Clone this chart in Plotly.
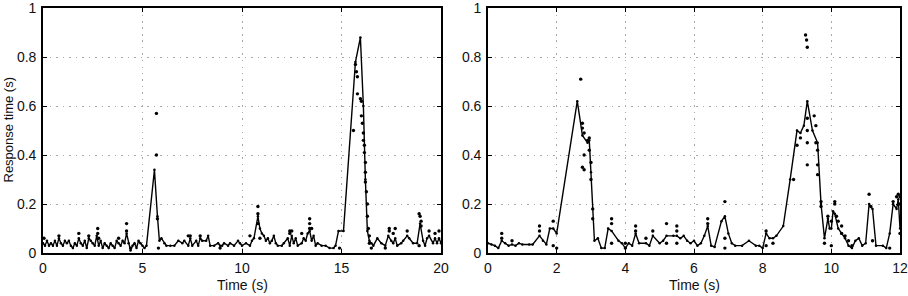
import plotly.graph_objects as go

# ---------------- Left panel data ----------------
left_line_t = [0.0,0.1,0.2,0.3,0.4,0.5,0.6,0.7,0.8,0.9,1.0,1.1,1.2,1.3,1.4,1.5,1.6,1.7,1.8,1.9,
               2.0,2.1,2.2,2.3,2.4,2.5,2.6,2.7,2.8,2.9,3.0,3.1,3.2,3.3,3.4,3.5,3.6,3.7,3.8,3.9,
               4.0,4.1,4.2,4.3,4.4,4.5,4.6,4.7,4.8,4.9,5.0,5.1,5.2,5.6,5.75,5.85,5.95,6.1,6.2,6.4,
               6.6,6.8,7.0,7.1,7.3,7.4,7.5,7.7,7.8,7.9,8.0,8.2,8.3,8.4,8.6,8.8,8.9,9.0,9.1,9.3,
               9.4,9.6,9.8,9.9,10.0,10.2,10.4,10.5,10.6,10.8,10.9,11.0,11.1,11.2,11.3,11.4,11.5,11.6,11.7,11.8,
               12.0,12.1,12.3,12.4,12.5,12.6,12.7,12.8,13.0,13.1,13.2,13.3,13.4,13.5,13.6,13.7,13.8,14.0,14.2,14.4,
               14.6,14.7,14.85,15.1,15.7,15.95,16.1,16.2,16.3,16.4,16.5,16.6,16.8,17.0,17.2,17.35,17.5,17.6,17.7,17.8,
               18.0,18.1,18.3,18.4,18.6,18.8,18.95,19.1,19.2,19.3,19.4,19.6,19.7,19.8,19.9,20.0]
left_line_y = [0.04,0.03,0.05,0.03,0.04,0.03,0.05,0.03,0.06,0.04,0.03,0.05,0.04,0.05,0.03,0.02,0.04,0.03,0.06,0.04,
               0.03,0.05,0.02,0.06,0.05,0.04,0.03,0.07,0.03,0.05,0.02,0.04,0.03,0.02,0.04,0.03,0.02,0.05,0.04,0.03,
               0.05,0.04,0.08,0.04,0.01,0.03,0.04,0.02,0.05,0.04,0.03,0.02,0.03,0.34,0.15,0.05,0.06,0.04,0.03,0.03,
               0.03,0.05,0.04,0.05,0.03,0.06,0.03,0.05,0.03,0.06,0.05,0.05,0.07,0.03,0.03,0.04,0.03,0.03,0.04,0.03,
               0.04,0.03,0.05,0.04,0.03,0.04,0.03,0.05,0.06,0.15,0.10,0.08,0.07,0.05,0.06,0.04,0.05,0.07,0.04,0.03,
               0.03,0.04,0.06,0.03,0.07,0.04,0.06,0.03,0.04,0.06,0.05,0.08,0.09,0.05,0.07,0.03,0.04,0.03,0.03,0.02,
               0.02,0.03,0.09,0.09,0.78,0.88,0.60,0.30,0.09,0.05,0.04,0.03,0.06,0.04,0.03,0.07,0.05,0.04,0.06,0.03,
               0.04,0.05,0.07,0.06,0.04,0.04,0.12,0.05,0.03,0.06,0.07,0.04,0.06,0.04,0.06,0.04]
left_dot_t = [0.05,0.8,1.8,2.3,2.75,2.75,2.8,3.8,4.2,4.2,4.4,5.7,5.7,5.75,5.8,7.3,7.4,7.9,8.9,10.4,
              10.8,10.8,10.8,10.9,12.4,12.4,12.5,13.0,13.4,13.4,13.4,13.5,14.9,15.6,15.7,15.75,15.8,15.8,15.95,16.0,
              16.0,16.05,16.1,16.1,16.15,16.15,16.2,16.2,16.2,16.25,16.3,16.3,16.35,16.4,16.4,16.5,17.4,17.4,17.7,17.6,
              18.3,18.9,18.95,19.0,19.0,19.4,19.7,19.9,18.9,17.2]
left_dot_y = [0.06,0.07,0.08,0.07,0.10,0.08,0.06,0.06,0.12,0.09,0.02,0.57,0.40,0.14,0.02,0.07,0.07,0.07,0.02,0.07,
              0.19,0.16,0.12,0.06,0.09,0.08,0.09,0.08,0.14,0.12,0.10,0.10,0.02,0.50,0.77,0.74,0.65,0.72,0.63,0.62,
              0.56,0.53,0.49,0.46,0.44,0.41,0.37,0.33,0.29,0.25,0.20,0.15,0.10,0.07,0.04,0.02,0.10,0.09,0.10,0.08,
              0.09,0.16,0.15,0.13,0.11,0.09,0.08,0.09,0.03,0.02]

# ---------------- Right panel data ----------------
right_line_t = [0.0,0.1,0.2,0.3,0.4,0.5,0.6,0.7,0.8,0.9,1.0,1.2,1.3,1.5,1.6,1.7,1.8,1.9,2.0,2.6,
                2.75,2.9,2.95,3.0,3.1,3.2,3.3,3.4,3.5,3.6,3.8,3.9,4.0,4.1,4.2,4.3,4.4,4.6,4.7,4.8,
                5.0,5.1,5.2,5.4,5.5,5.6,5.7,5.8,5.9,6.0,6.1,6.2,6.3,6.4,6.5,6.6,6.8,6.9,7.0,7.1,
                7.2,7.4,7.6,7.8,7.9,8.0,8.1,8.2,8.3,8.4,8.6,8.8,9.0,9.1,9.2,9.3,9.45,9.6,9.7,9.8,
                9.9,9.95,10.0,10.05,10.1,10.2,10.3,10.4,10.5,10.6,10.7,10.8,10.9,11.0,11.1,11.2,11.3,11.5,11.6,11.7,
                11.8,11.9,11.95,12.0]
right_line_y = [0.04,0.035,0.03,0.02,0.05,0.04,0.03,0.035,0.03,0.04,0.035,0.035,0.035,0.07,0.05,0.035,0.10,0.10,0.08,0.62,
                0.48,0.45,0.46,0.33,0.05,0.06,0.02,0.02,0.10,0.09,0.05,0.04,0.02,0.04,0.03,0.08,0.04,0.04,0.03,0.07,
                0.04,0.05,0.07,0.07,0.07,0.06,0.07,0.05,0.04,0.05,0.03,0.04,0.07,0.11,0.03,0.025,0.13,0.15,0.08,0.04,
                0.03,0.03,0.05,0.03,0.03,0.02,0.08,0.06,0.06,0.07,0.11,0.30,0.50,0.49,0.52,0.62,0.50,0.45,0.20,0.06,
                0.14,0.10,0.10,0.17,0.16,0.10,0.08,0.06,0.03,0.02,0.05,0.06,0.03,0.04,0.20,0.18,0.03,0.03,0.02,0.08,
                0.20,0.18,0.22,0.10]
right_dot_t = [0.4,0.4,0.7,1.5,1.5,1.9,1.9,2.0,2.7,2.75,2.75,2.8,2.8,2.75,2.8,2.9,2.95,2.95,3.0,3.0,
               3.05,3.05,3.6,3.6,3.6,4.0,4.0,4.3,4.3,4.6,4.8,5.2,5.2,5.5,5.5,5.5,6.4,6.4,6.9,6.9,
               6.9,8.1,8.1,8.3,8.9,9.0,9.1,9.25,9.28,9.3,9.3,9.3,9.3,9.3,9.5,9.55,9.55,9.6,9.6,9.6,
               9.7,9.7,9.8,9.9,10.0,10.0,10.1,10.1,10.15,10.2,10.3,10.3,10.4,10.5,10.6,11.1,11.15,11.2,11.7,11.8,
               11.9,11.95,12.0,12.0,12.0]
right_dot_y = [0.08,0.06,0.05,0.11,0.09,0.13,0.03,0.02,0.71,0.53,0.51,0.49,0.40,0.35,0.34,0.46,0.47,0.42,0.37,0.30,
               0.18,0.14,0.14,0.12,0.04,0.04,0.02,0.11,0.09,0.06,0.09,0.12,0.04,0.11,0.09,0.04,0.14,0.12,0.21,0.06,
               0.02,0.09,0.03,0.04,0.30,0.44,0.47,0.89,0.87,0.84,0.55,0.50,0.45,0.36,0.56,0.52,0.45,0.42,0.36,0.32,
               0.21,0.19,0.04,0.15,0.03,0.13,0.20,0.21,0.15,0.13,0.11,0.08,0.07,0.05,0.03,0.24,0.19,0.05,0.02,0.21,
               0.23,0.24,0.23,0.20,0.08]

y_ticks = [0, 0.2, 0.4, 0.6, 0.8, 1]
y_tick_text = ["0", "0.2", "0.4", "0.6", "0.8", "1"]
left_x_ticks = [0, 5, 10, 15, 20]
right_x_ticks = [0, 2, 4, 6, 8, 10, 12]

W, H = 908, 296
FONT = dict(family="Liberation Sans, Arial, sans-serif", size=14, color="#111111")
YLAB_FONT = dict(family="Liberation Sans, Arial, sans-serif", size=13, color="#111111")

fig = go.Figure()

def add_panel(lt, ly, dt, dy, xa, ya):
    fig.add_trace(go.Scatter(x=lt, y=ly, mode="lines+markers", xaxis=xa, yaxis=ya,
                             line=dict(color="black", width=1.4),
                             marker=dict(color="black", size=2.5), showlegend=False,
                             hoverinfo="skip", cliponaxis=False))
    fig.add_trace(go.Scatter(x=dt, y=dy, mode="markers", xaxis=xa, yaxis=ya,
                             marker=dict(color="black", size=3.4), showlegend=False,
                             hoverinfo="skip", cliponaxis=False))

add_panel(left_line_t, left_line_y, left_dot_t, left_dot_y, "x", "y")
add_panel(right_line_t, right_line_y, right_dot_t, right_dot_y, "x2", "y2")

top = 1 - 8 / H
bot = 1 - 253 / H

axis_common = dict(showline=True, linecolor="black", linewidth=1.6, mirror="allticks",
                   ticks="inside", ticklen=4, tickcolor="black", tickwidth=1,
                   showgrid=True, gridcolor="#a8a8a8", griddash="1.5px,5px", gridwidth=1,
                   zeroline=False, tickfont=FONT, automargin=False,
                   ticklabeloverflow="allow")

fig.update_layout(
    width=W, height=H,
    margin=dict(l=0, r=0, t=0, b=0, autoexpand=False),
    paper_bgcolor="white", plot_bgcolor="white",
    font=FONT,
    xaxis=dict(domain=[43 / W, 441 / W], range=[0, 20], tickvals=left_x_ticks,
               anchor="y", ticklabelstandoff=1, **axis_common),
    yaxis=dict(domain=[bot, top], range=[0, 1.0005], tickvals=y_ticks, ticktext=y_tick_text,
               anchor="x", ticklabelstandoff=2, **axis_common),
    xaxis2=dict(domain=[488 / W, 900 / W], range=[0, 12], tickvals=right_x_ticks,
                anchor="y2", ticklabelstandoff=1, **axis_common),
    yaxis2=dict(domain=[bot, top], range=[0, 1.0005], tickvals=y_ticks, ticktext=y_tick_text,
                anchor="x2", ticklabelstandoff=2, **axis_common),
    annotations=[
        dict(text="Response time (s)", xref="paper", yref="paper",
             x=8 / W, y=(bot + top) / 2, xanchor="center", yanchor="middle",
             textangle=-90, showarrow=False, font=YLAB_FONT),
        dict(text="Time (s)", xref="paper", yref="paper",
             x=242 / W, y=1 - 285 / H, xanchor="center", yanchor="middle",
             showarrow=False, font=FONT),
        dict(text="Time (s)", xref="paper", yref="paper",
             x=694 / W, y=1 - 285 / H, xanchor="center", yanchor="middle",
             showarrow=False, font=FONT),
    ],
)

fig.write_html("out.html")
